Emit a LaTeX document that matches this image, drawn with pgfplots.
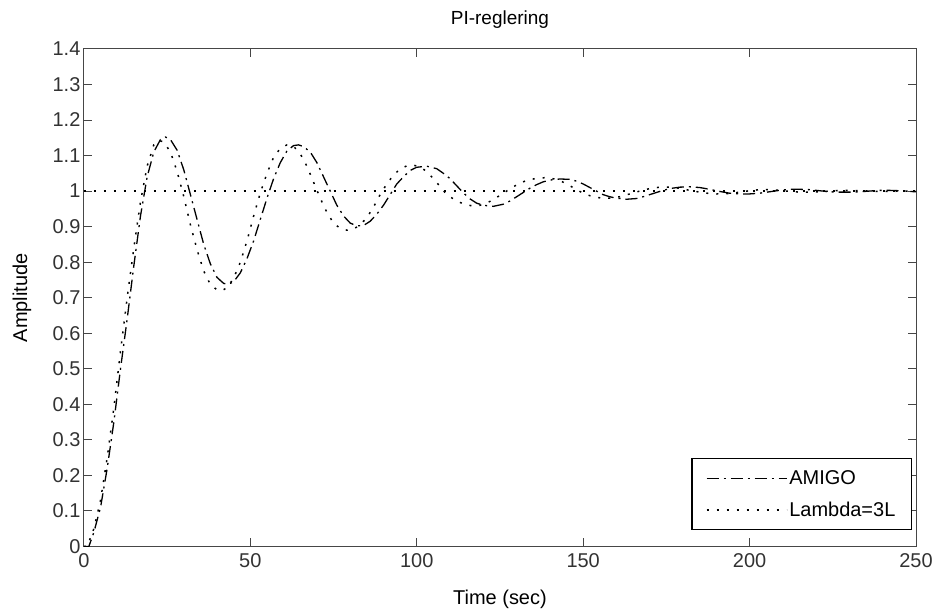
\documentclass[border=0pt]{standalone}
\usepackage{pgfplots}
\pgfplotsset{compat=1.18}
\usepackage{fontspec}
\setmainfont{Liberation Sans}
\usetikzlibrary{calc}
\definecolor{axgray}{RGB}{70,70,70}
\definecolor{txtgray}{RGB}{50,50,50}
\begin{document}
\begin{tikzpicture}
\begin{axis}[
  scale only axis, width=833pt, height=498pt,
  xmin=0, xmax=250, ymin=0, ymax=1.4,
  xtick={0,50,100,150,200,250},
  xticklabels={0,50,100,150,200,250},
  ytick={0,0.1,0.2,0.3,0.4,0.5,0.6,0.7,0.8,0.9,1,1.1,1.2,1.3,1.4},
  yticklabels={0,0.1,0.2,0.3,0.4,0.5,0.6,0.7,0.8,0.9,1,1.1,1.2,1.3,1.4},
  tick align=inside, major tick length=8pt,
  axis line style={axgray, line width=1pt},
  every tick/.style={axgray, line width=1pt},
  ticklabel style={font=\fontsize{20}{22}\selectfont, text=txtgray},
  xticklabel style={yshift=-4pt},
  xlabel={Time (sec)}, ylabel={Amplitude}, title={PI-reglering},
  xlabel style={font=\fontsize{20}{22}\selectfont, at={(axis description cs:0.5,-0.106)}, anchor=center},
  ylabel style={font=\fontsize{20}{22}\selectfont, at={(axis description cs:-0.0744,0.5)}, anchor=center, rotate=0},
  title style={font=\fontsize{19}{21}\selectfont, at={(axis description cs:0.5,1.046)}, anchor=center},
  legend style={at={(0.9952,0.032)}, anchor=south east, draw=black, line width=1.3pt,
    font=\fontsize{20}{22}\selectfont, inner xsep=14pt, inner ysep=10pt,
    row sep=12pt, cells={anchor=west}},
  legend image code/.code={\draw[#1] (0pt,0pt) -- (80pt,0pt);},
  clip=true,
]
\addplot[black, line width=1.3pt, dash pattern=on 12pt off 5pt on 2pt off 5pt] coordinates {
(0,0) (1.5,0.0) (3,0.04) (5,0.11) (7,0.22) (9,0.35) (11,0.50) (13,0.64) (15,0.79) (17,0.93)
(19,1.04) (21,1.11) (23,1.145) (24.5,1.152) (26,1.145) (28,1.115) (30,1.06) (32,0.99) (34,0.92)
(36,0.85) (38,0.795) (40,0.757) (42,0.74) (43.5,0.738) (45,0.745) (47,0.77) (49,0.81) (51,0.86)
(53,0.92) (55,0.98) (57,1.035) (59,1.08) (61,1.113) (63,1.128) (64.5,1.13) (66,1.125) (68,1.11)
(70,1.08) (72,1.04) (74,1.00) (76,0.96) (78,0.93) (80,0.91) (82,0.902) (84,0.903) (86,0.915)
(88,0.935) (90,0.96) (92,0.99) (94,1.02) (96,1.04) (98,1.058) (100,1.067) (103,1.07) (106,1.063)
(108,1.05) (110,1.035) (112,1.015) (114,0.995) (116,0.978) (118,0.966) (120,0.96) (123,0.957)
(126,0.963) (128,0.972) (130,0.984) (132,0.996) (134,1.008) (136,1.018) (138,1.026) (140,1.031)
(143,1.034) (146,1.033) (148,1.028) (150,1.02) (152,1.01) (154,1.0) (156,0.99) (158,0.984)
(160,0.98) (163,0.977) (166,0.979) (168,0.984) (170,0.99) (173,0.999) (176,1.007) (179,1.011)
(182,1.012) (185,1.01) (188,1.005) (191,0.999) (194,0.994) (197,0.992) (200,0.992) (203,0.994)
(206,0.998) (209,1.002) (212,1.005) (215,1.005) (218,1.004) (221,1.001) (224,0.998) (227,0.997)
(230,0.997) (233,0.998) (236,1.0) (239,1.002) (242,1.002) (245,1.001) (248,0.999) (250,0.998)
};
\addlegendentry{AMIGO}
\addplot[black, line width=1.5pt, dash pattern=on 2pt off 8pt] coordinates {
(0,0) (1,0) (3,0.05) (5,0.13) (7,0.25) (9,0.39) (11,0.55) (13,0.70) (15,0.84) (17,0.97)
(19,1.07) (21,1.13) (22.5,1.143) (24,1.138) (26,1.11) (28,1.055) (30,0.985) (32,0.905) (34,0.835)
(36,0.775) (38,0.737) (40,0.722) (41.5,0.72) (43,0.728) (45,0.755) (47,0.80) (49,0.86) (51,0.93)
(53,0.995) (55,1.05) (57,1.095) (59,1.12) (61,1.13) (63,1.126) (65,1.105) (67,1.07) (69,1.025)
(71,0.98) (73,0.94) (75,0.91) (77,0.895) (79,0.89) (81,0.893) (83,0.905) (85,0.925) (87,0.955)
(89,0.99) (91,1.02) (93,1.045) (95,1.062) (97,1.071) (99,1.073) (101,1.068) (103,1.055) (105,1.035)
(107,1.013) (109,0.99) (111,0.978) (113,0.968) (115,0.961) (117,0.958) (119,0.96) (121,0.966)
(123,0.976) (125,0.988) (127,1.0) (129,1.012) (131,1.022) (133,1.03) (136,1.036) (139,1.038)
(142,1.033) (144,1.025) (146,1.015) (148,1.004) (150,0.994) (152,0.987) (155,0.981) (158,0.98)
(161,0.984) (164,0.992) (167,1.0) (170,1.007) (173,1.011) (176,1.011) (179,1.008) (182,1.002)
(185,0.997) (188,0.993) (191,0.992) (194,0.993) (197,0.997) (200,1.001) (203,1.004) (206,1.004)
(209,1.002) (212,0.999) (215,0.997) (218,0.997) (221,0.998) (224,1.0) (227,1.002) (230,1.002)
(233,1.001) (236,1.0) (239,0.999) (242,0.999) (246,1.0) (250,1.0)
};
\addlegendentry{Lambda=3L}
\addplot[black, line width=1.5pt, dash pattern=on 2pt off 8pt, forget plot] coordinates {(0,1) (250,1)};
\end{axis}
\path ($(current axis.south west)+(-84pt,-68pt)$) rectangle ($(current axis.north east)+(19pt,49pt)$);
\end{tikzpicture}
\end{document}
